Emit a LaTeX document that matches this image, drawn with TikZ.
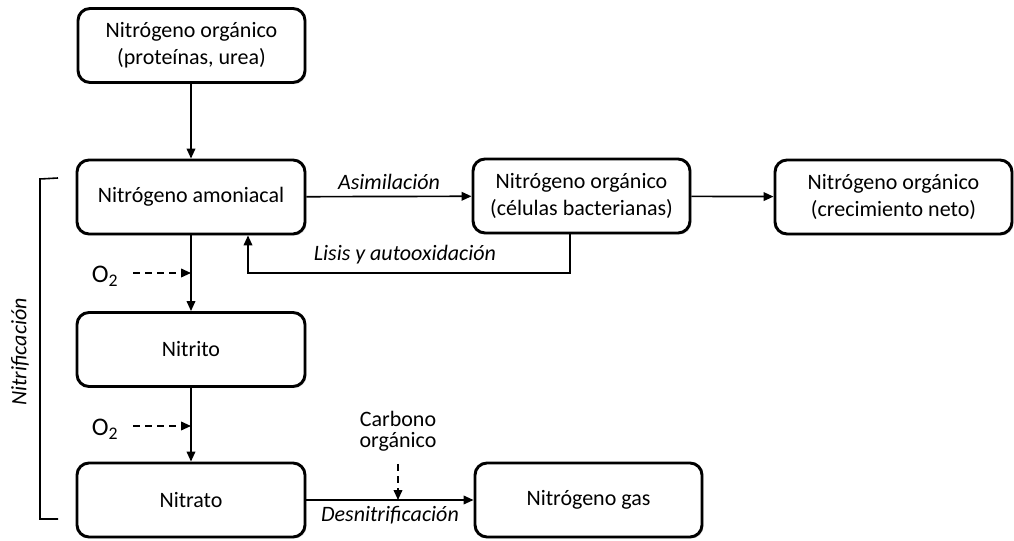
\documentclass[tikz,border=0pt]{standalone}
\usepackage{fontspec}
\setmainfont{Carlito}
\usetikzlibrary{arrows.meta,shadows}
\begin{document}
\begin{tikzpicture}[x=0.75pt,y=-0.75pt,
  box/.style={draw, line width=2.2pt, rounded corners=9pt, minimum height=55.5pt,
    align=center, fill=white, inner sep=2pt,
    font=\fontsize{16.5}{20.5}\selectfont,
    drop shadow={shadow xshift=1.2pt, shadow yshift=-1.2pt, opacity=0.22}},
  arr/.style={line width=1.25pt, -{Triangle[length=7.5pt,width=6.5pt]}},
  dasharr/.style={arr, dash pattern=on 5pt off 4pt},
  lbl/.style={font=\fontsize{16.5}{20}\selectfont\itshape},
  txt/.style={font=\fontsize{16.5}{20}\selectfont, inner sep=0pt},
  oxy/.style={font=\fontsize{19}{20}\selectfont, inner sep=0pt}]
\useasboundingbox (0,0) rectangle (1014,541);

% boxes
\node[box, minimum width=170.25pt] (n1) at (191.5,45.5) {Nitrógeno orgánico\\(proteínas, urea)};
\node[box, minimum width=171pt] (amon) at (191,197) {Nitrógeno amoniacal};
\node[box, minimum width=162.75pt] (cel) at (581.5,196) {Nitrógeno orgánico\\(células bacterianas)};
\node[box, minimum width=177.75pt] (crec) at (893.5,197) {Nitrógeno orgánico\\(crecimiento neto)};
\node[box, minimum width=171pt] (nitrito) at (191,349.5) {Nitrito};
\node[box, minimum width=171pt] (nitrato) at (191,500) {Nitrato};
\node[box, minimum width=170.25pt] (gas) at (588.5,500) {Nitrógeno gas};

% main flow
\draw[arr] (n1.south -| amon) -- (amon.north);
\draw[arr] (amon) -- node[lbl, above=1pt] {Asimilación} (cel);
\draw[arr] (cel) -- (crec);
\draw[arr] (amon) -- (nitrito);
\draw[arr] (nitrito) -- (nitrato);
\draw[arr] (nitrato) -- node[lbl, below=1pt] {Desnitrificación} (gas);

% lysis loop
\coordinate (l1) at (570,273);
\coordinate (l2) at (248,273);
\draw[arr] (cel.south -| l1) -- (l1) -- (l2) -- (amon.south -| l2);
\node[lbl] (lis) at (405,255) {Lisis y autooxidación};

% oxygen inputs
\node[oxy] (o2a) at (105,276) {O\textsubscript{2}};
\coordinate (d1) at (133,273);
\coordinate (j1) at (191,273);
\draw[dasharr] (d1) -- (j1);
\node[oxy] (o2b) at (105,429) {O\textsubscript{2}};
\coordinate (d2) at (133,426);
\coordinate (j2) at (191,426);
\draw[dasharr] (d2) -- (j2);

% organic carbon
\node[txt, align=center, font=\fontsize{16.5}{15.5}\selectfont] (carb) at (398,431) {Carbono\\orgánico};
\coordinate (j3) at (398,500);
\draw[dasharr] (carb.south |- 0,464) -- (j3);

% nitrification bracket
\coordinate (b1) at (58,178);
\coordinate (b2) at (58,519);
\draw[line width=1.2pt] (b1) -- (40,179) -- (40,519) -- (b2);
\node[lbl, rotate=90] (nitrif) at (20,352) {Nitrificación};
\end{tikzpicture}
\end{document}
